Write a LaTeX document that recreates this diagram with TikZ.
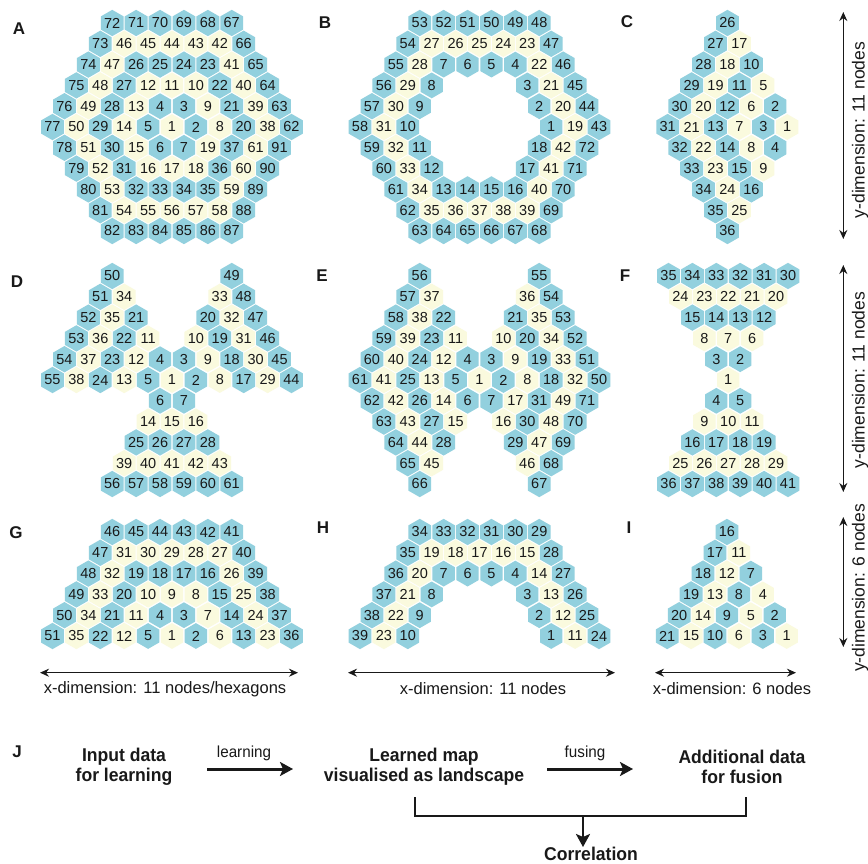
\documentclass[tikz,border=0pt]{standalone}
\usepackage{fontspec}
\setmainfont{Liberation Sans}
\newfontfamily\condfont[FakeStretch=0.95]{Liberation Sans}
\usetikzlibrary{shapes.geometric,arrows.meta}
\definecolor{hexb}{RGB}{146,208,222}
\definecolor{hexy}{RGB}{250,250,222}
\definecolor{ink}{RGB}{25,25,25}
\tikzset{
  hex/.style={regular polygon, regular polygon sides=6, shape border rotate=30,
    minimum size=25.8pt, inner sep=0pt, draw=none, text=ink,
    font=\fontsize{14.5pt}{15pt}\selectfont},
  plabel/.style={font=\bfseries\fontsize{17pt}{17pt}\selectfont, text=ink, inner sep=0pt},
  dimlabel/.style={font=\fontsize{16.5pt}{17pt}\selectfont, text=ink, inner sep=0pt},
  ydimlabel/.style={font=\fontsize{17.5pt}{18pt}\selectfont, text=ink, inner sep=0pt, rotate=90},
  dimarrow/.style={{Stealth[length=9pt,width=8pt]}-{Stealth[length=9pt,width=8pt]}, line width=1.3pt, draw=ink},
  jtext/.style={font=\condfont\bfseries\fontsize{18.5pt}{20pt}\selectfont, align=center, text=ink, inner sep=0pt},
  jsmall/.style={font=\condfont\fontsize{16pt}{17pt}\selectfont, text=ink, inner sep=0pt},
  bigarrow/.style={-{Stealth[length=13pt,width=14pt,inset=3pt]}, line width=3pt, draw=ink},
  bracket/.style={line width=2.6pt, draw=ink}
}
% #1 prefix, #2 xbase, #3 ybase, #4 row, #5 half-step offset, #6 cells
\newcommand\hexrowdraw[6]{%
  \foreach \nm/\cl [count=\ii from 0] in {#6}{%
    \if\cl o\else
      \node[hex,fill=hex\cl] (#1-\nm) at ({#2+(#5)*11.95+\ii*23.9},{#3+(#4)*20.8}) {\nm};
    \fi
  }%
}
\begin{document}
\begin{tikzpicture}[x=1pt,y=-1pt]
\useasboundingbox (0,0) rectangle (868,864);
\fill[white] (0,0) rectangle (868,864);

% ---------- A ----------
\node[plabel] (labA) at (19,29) {A};
\hexrowdraw{A}{52.5}{23}{0}{5}{72/b,71/b,70/b,69/b,68/b,67/b}
\hexrowdraw{A}{52.5}{23}{1}{4}{73/b,46/y,45/y,44/y,43/y,42/y,66/b}
\hexrowdraw{A}{52.5}{23}{2}{3}{74/b,47/y,26/b,25/b,24/b,23/b,41/y,65/b}
\hexrowdraw{A}{52.5}{23}{3}{2}{75/b,48/y,27/b,12/y,11/y,10/y,22/b,40/y,64/b}
\hexrowdraw{A}{52.5}{23}{4}{1}{76/b,49/y,28/b,13/y,4/b,3/b,9/y,21/b,39/y,63/b}
\hexrowdraw{A}{52.5}{23}{5}{0}{77/b,50/y,29/b,14/y,5/b,1/y,2/b,8/y,20/b,38/y,62/b}
\hexrowdraw{A}{52.5}{23}{6}{1}{78/b,51/y,30/b,15/y,6/b,7/b,19/y,37/b,61/y,91/b}
\hexrowdraw{A}{52.5}{23}{7}{2}{79/b,52/y,31/b,16/y,17/y,18/y,36/b,60/y,90/b}
\hexrowdraw{A}{52.5}{23}{8}{3}{80/b,53/y,32/b,33/b,34/b,35/b,59/y,89/b}
\hexrowdraw{A}{52.5}{23}{9}{4}{81/b,54/y,55/y,56/y,57/y,58/y,88/b}
\hexrowdraw{A}{52.5}{23}{10}{5}{82/b,83/b,84/b,85/b,86/b,87/b}

% ---------- B ----------
\node[plabel] (labB) at (325,23) {B};
\hexrowdraw{B}{360}{23}{0}{5}{53/b,52/b,51/b,50/b,49/b,48/b}
\hexrowdraw{B}{360}{23}{1}{4}{54/b,27/y,26/y,25/y,24/y,23/y,47/b}
\hexrowdraw{B}{360}{23}{2}{3}{55/b,28/y,7/b,6/b,5/b,4/b,22/y,46/b}
\hexrowdraw{B}{360}{23}{3}{2}{56/b,29/y,8/b,x/o,x/o,x/o,3/b,21/y,45/b}
\hexrowdraw{B}{360}{23}{4}{1}{57/b,30/y,9/b,x/o,x/o,x/o,x/o,2/b,20/y,44/b}
\hexrowdraw{B}{360}{23}{5}{0}{58/b,31/y,10/b,x/o,x/o,x/o,x/o,x/o,1/b,19/y,43/b}
\hexrowdraw{B}{360}{23}{6}{1}{59/b,32/y,11/b,x/o,x/o,x/o,x/o,18/b,42/y,72/b}
\hexrowdraw{B}{360}{23}{7}{2}{60/b,33/y,12/b,x/o,x/o,x/o,17/b,41/y,71/b}
\hexrowdraw{B}{360}{23}{8}{3}{61/b,34/y,13/b,14/b,15/b,16/b,40/y,70/b}
\hexrowdraw{B}{360}{23}{9}{4}{62/b,35/y,36/y,37/y,38/y,39/y,69/b}
\hexrowdraw{B}{360}{23}{10}{5}{63/b,64/b,65/b,66/b,67/b,68/b}

% ---------- C ----------
\node[plabel] (labC) at (627,22) {C};
\hexrowdraw{C}{667.7}{23}{0}{5}{26/b}
\hexrowdraw{C}{667.7}{23}{1}{4}{27/b,17/y}
\hexrowdraw{C}{667.7}{23}{2}{3}{28/b,18/y,10/b}
\hexrowdraw{C}{667.7}{23}{3}{2}{29/b,19/y,11/b,5/y}
\hexrowdraw{C}{667.7}{23}{4}{1}{30/b,20/y,12/b,6/y,2/b}
\hexrowdraw{C}{667.7}{23}{5}{0}{31/b,21/y,13/b,7/y,3/b,1/y}
\hexrowdraw{C}{667.7}{23}{6}{1}{32/b,22/y,14/b,8/y,4/b}
\hexrowdraw{C}{667.7}{23}{7}{2}{33/b,23/y,15/b,9/y}
\hexrowdraw{C}{667.7}{23}{8}{3}{34/b,24/y,16/b}
\hexrowdraw{C}{667.7}{23}{9}{4}{35/b,25/y}
\hexrowdraw{C}{667.7}{23}{10}{5}{36/b}

% ---------- D ----------
\node[plabel] (labD) at (17,282) {D};
\hexrowdraw{D}{52.5}{276}{0}{5}{50/b,x/o,x/o,x/o,x/o,49/b}
\hexrowdraw{D}{52.5}{276}{1}{4}{51/b,34/y,x/o,x/o,x/o,33/y,48/b}
\hexrowdraw{D}{52.5}{276}{2}{3}{52/b,35/y,21/b,x/o,x/o,20/b,32/y,47/b}
\hexrowdraw{D}{52.5}{276}{3}{2}{53/b,36/y,22/b,11/y,x/o,10/y,19/b,31/y,46/b}
\hexrowdraw{D}{52.5}{276}{4}{1}{54/b,37/y,23/b,12/y,4/b,3/b,9/y,18/b,30/y,45/b}
\hexrowdraw{D}{52.5}{276}{5}{0}{55/b,38/y,24/b,13/y,5/b,1/y,2/b,8/y,17/b,29/y,44/b}
\hexrowdraw{D}{52.5}{276}{6}{9}{6/b,7/b}
\hexrowdraw{D}{52.5}{276}{7}{8}{14/y,15/y,16/y}
\hexrowdraw{D}{52.5}{276}{8}{7}{25/b,26/b,27/b,28/b}
\hexrowdraw{D}{52.5}{276}{9}{6}{39/y,40/y,41/y,42/y,43/y}
\hexrowdraw{D}{52.5}{276}{10}{5}{56/b,57/b,58/b,59/b,60/b,61/b}

% ---------- E ----------
\node[plabel] (labE) at (322,276) {E};
\hexrowdraw{E}{360}{276}{0}{5}{56/b,x/o,x/o,x/o,x/o,55/b}
\hexrowdraw{E}{360}{276}{1}{4}{57/b,37/y,x/o,x/o,x/o,36/y,54/b}
\hexrowdraw{E}{360}{276}{2}{3}{58/b,38/y,22/b,x/o,x/o,21/b,35/y,53/b}
\hexrowdraw{E}{360}{276}{3}{2}{59/b,39/y,23/b,11/y,x/o,10/y,20/b,34/y,52/b}
\hexrowdraw{E}{360}{276}{4}{1}{60/b,40/y,24/b,12/y,4/b,3/b,9/y,19/b,33/y,51/b}
\hexrowdraw{E}{360}{276}{5}{0}{61/b,41/y,25/b,13/y,5/b,1/y,2/b,8/y,18/b,32/y,50/b}
\hexrowdraw{E}{360}{276}{6}{1}{62/b,42/y,26/b,14/y,6/b,7/b,17/y,31/b,49/y,71/b}
\hexrowdraw{E}{360}{276}{7}{2}{63/b,43/y,27/b,15/y,x/o,16/y,30/b,48/y,70/b}
\hexrowdraw{E}{360}{276}{8}{3}{64/b,44/y,28/b,x/o,x/o,29/b,47/y,69/b}
\hexrowdraw{E}{360}{276}{9}{4}{65/b,45/y,x/o,x/o,x/o,46/y,68/b}
\hexrowdraw{E}{360}{276}{10}{5}{66/b,x/o,x/o,x/o,x/o,67/b}

% ---------- F ----------
\node[plabel] (labF) at (625,276) {F};
\hexrowdraw{F}{668.5}{276}{0}{0}{35/b,34/b,33/b,32/b,31/b,30/b}
\hexrowdraw{F}{668.5}{276}{1}{1}{24/y,23/y,22/y,21/y,20/y}
\hexrowdraw{F}{668.5}{276}{2}{2}{15/b,14/b,13/b,12/b}
\hexrowdraw{F}{668.5}{276}{3}{3}{8/y,7/y,6/y}
\hexrowdraw{F}{668.5}{276}{4}{4}{3/b,2/b}
\hexrowdraw{F}{668.5}{276}{5}{5}{1/y}
\hexrowdraw{F}{668.5}{276}{6}{4}{4/b,5/b}
\hexrowdraw{F}{668.5}{276}{7}{3}{9/y,10/y,11/y}
\hexrowdraw{F}{668.5}{276}{8}{2}{16/b,17/b,18/b,19/b}
\hexrowdraw{F}{668.5}{276}{9}{1}{25/y,26/y,27/y,28/y,29/y}
\hexrowdraw{F}{668.5}{276}{10}{0}{36/b,37/b,38/b,39/b,40/b,41/b}

% ---------- G ----------
\node[plabel] (labG) at (16,533) {G};
\hexrowdraw{G}{52.5}{532}{0}{5}{46/b,45/b,44/b,43/b,42/b,41/b}
\hexrowdraw{G}{52.5}{532}{1}{4}{47/b,31/y,30/y,29/y,28/y,27/y,40/b}
\hexrowdraw{G}{52.5}{532}{2}{3}{48/b,32/y,19/b,18/b,17/b,16/b,26/y,39/b}
\hexrowdraw{G}{52.5}{532}{3}{2}{49/b,33/y,20/b,10/y,9/y,8/y,15/b,25/y,38/b}
\hexrowdraw{G}{52.5}{532}{4}{1}{50/b,34/y,21/b,11/y,4/b,3/b,7/y,14/b,24/y,37/b}
\hexrowdraw{G}{52.5}{532}{5}{0}{51/b,35/y,22/b,12/y,5/b,1/y,2/b,6/y,13/b,23/y,36/b}

% ---------- H ----------
\node[plabel] (labH) at (323,528) {H};
\hexrowdraw{H}{360}{532}{0}{5}{34/b,33/b,32/b,31/b,30/b,29/b}
\hexrowdraw{H}{360}{532}{1}{4}{35/b,19/y,18/y,17/y,16/y,15/y,28/b}
\hexrowdraw{H}{360}{532}{2}{3}{36/b,20/y,7/b,6/b,5/b,4/b,14/y,27/b}
\hexrowdraw{H}{360}{532}{3}{2}{37/b,21/y,8/b,x/o,x/o,x/o,3/b,13/y,26/b}
\hexrowdraw{H}{360}{532}{4}{1}{38/b,22/y,9/b,x/o,x/o,x/o,x/o,2/b,12/y,25/b}
\hexrowdraw{H}{360}{532}{5}{0}{39/b,23/y,10/b,x/o,x/o,x/o,x/o,x/o,1/b,11/y,24/b}

% ---------- I ----------
\node[plabel] (labI) at (629,528) {I};
\hexrowdraw{I}{667.2}{532}{0}{5}{16/b}
\hexrowdraw{I}{667.2}{532}{1}{4}{17/b,11/y}
\hexrowdraw{I}{667.2}{532}{2}{3}{18/b,12/y,7/b}
\hexrowdraw{I}{667.2}{532}{3}{2}{19/b,13/y,8/b,4/y}
\hexrowdraw{I}{667.2}{532}{4}{1}{20/b,14/y,9/b,5/y,2/b}
\hexrowdraw{I}{667.2}{532}{5}{0}{21/b,15/y,10/b,6/y,3/b,1/y}

% ---------- dimension arrows ----------
\coordinate (y1t) at (843.3,12);  \coordinate (y1b) at (843.3,239);
\coordinate (y2t) at (843.3,265); \coordinate (y2b) at (843.3,492);
\coordinate (y3t) at (843.3,517); \coordinate (y3b) at (843.3,647);
\draw[dimarrow] (y1t) -- (y1b);
\draw[dimarrow] (y2t) -- (y2b);
\draw[dimarrow] (y3t) -- (y3b);
\node[ydimlabel] (ylab1) at (860,130) {y-dimension: 11 nodes};
\node[ydimlabel] (ylab2) at (860,380) {y-dimension: 11 nodes};
\node[ydimlabel] (ylab3) at (860,588) {y-dimension: 6 nodes};

\coordinate (xgl) at (40,672.7);  \coordinate (xgr) at (298,672.7);
\coordinate (xhl) at (348,672.7); \coordinate (xhr) at (615,672.7);
\coordinate (xil) at (655,672.7); \coordinate (xir) at (796,672.7);
\draw[dimarrow] (xgl) -- (xgr);
\draw[dimarrow] (xhl) -- (xhr);
\draw[dimarrow] (xil) -- (xir);
\node[dimlabel] (xlabG) at (165,689) {x-dimension: 11 nodes/hexagons};
\node[dimlabel] (xlabH) at (483,689) {x-dimension: 11 nodes};
\node[dimlabel] (xlabI) at (732,689) {x-dimension: 6 nodes};

% ---------- J ----------
\node[plabel] (labJ) at (17,752) {J};
\node[jtext] (inp) at (124,767) {Input data\\for learning};
\node[jtext] (lmap) at (424,767) {Learned map\\visualised as landscape};
\node[jtext] (addd) at (742,767) {Additional data\\for fusion};
\draw[bigarrow] ([xshift=83pt,yshift=-2pt]inp.center) -- ([xshift=-131pt,yshift=-2pt]lmap.center);
\draw[bigarrow] ([xshift=123pt,yshift=-2pt]lmap.center) -- ([xshift=-109pt,yshift=-2pt]addd.center);
\node[jsmall] (lrn) at (244,753) {learning};
\node[jsmall] (fus) at (585,753) {fusing};
\draw[bracket] ([xshift=-9pt,yshift=-30pt]lmap.center) -- ++(0,19) coordinate (brl)
  -| ([xshift=4pt,yshift=-30pt]addd.center);
\coordinate (brm) at (583,816);
\node[jtext] (corr) at (591,854) {Correlation};
\draw[bigarrow, line width=2.6pt] (brm) -- (brm |- corr.north);
\end{tikzpicture}
\end{document}
